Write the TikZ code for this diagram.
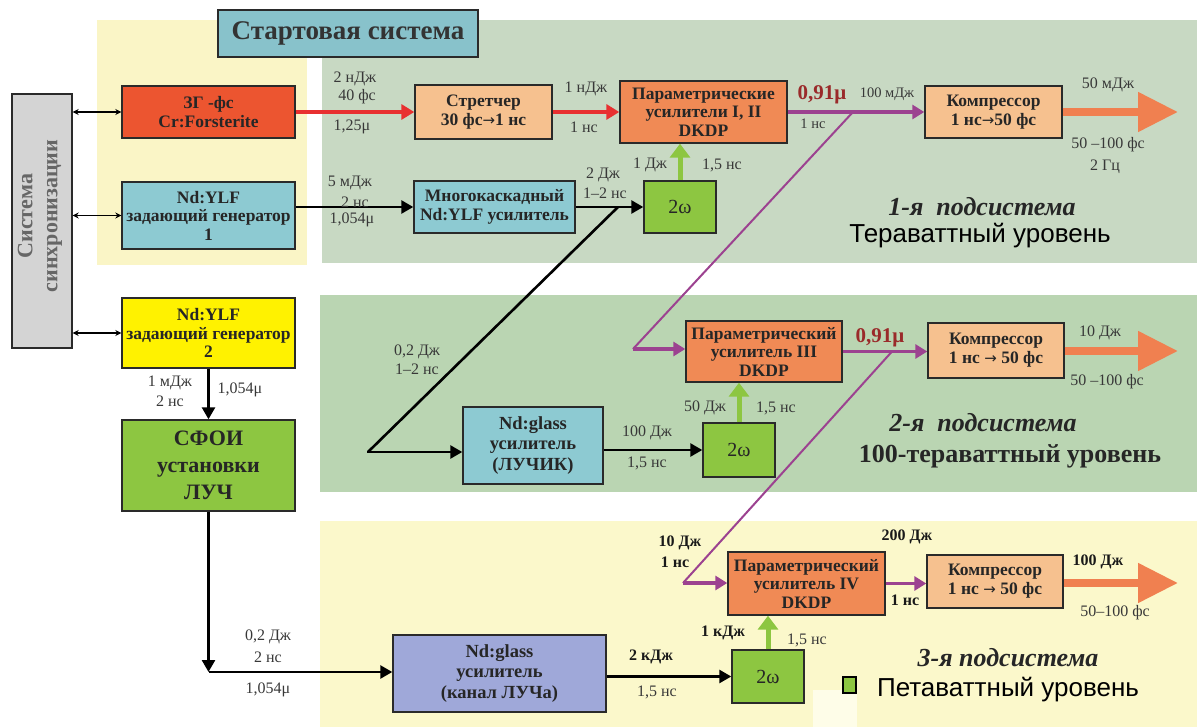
\documentclass[tikz,border=0pt]{standalone}
\usepackage{fontspec}
\setmainfont{Liberation Serif}
\newfontfamily\sansf{Liberation Sans}
\newfontfamily\arrf{DejaVu Sans}
\usetikzlibrary{arrows.meta}
\definecolor{bgyel}{HTML}{FAF5C6}
\definecolor{bggrA}{HTML}{C8D9C3}
\definecolor{bggrB}{HTML}{BAD5B2}
\definecolor{bgyelB}{HTML}{FBF8CB}
\definecolor{bglight}{HTML}{FEFDE8}
\definecolor{cteal}{HTML}{8DCAD2}
\definecolor{ctitle}{HTML}{88C2CB}
\definecolor{cred}{HTML}{EC5530}
\definecolor{cpeach}{HTML}{F6C18F}
\definecolor{corange}{HTML}{F08A55}
\definecolor{cgreen}{HTML}{8DC641}
\definecolor{cyel}{HTML}{FFF200}
\definecolor{clav}{HTML}{9FA8D9}
\definecolor{cpurple}{HTML}{9C4290}
\definecolor{cared}{HTML}{E83030}
\definecolor{cbig}{HTML}{F08050}
\definecolor{csync}{HTML}{D4D4D4}
\definecolor{cdred}{HTML}{9A2A2A}
\definecolor{boxline}{HTML}{2A2A2A}
\newcommand\bxf{\fontsize{17.5}{19}\selectfont\bfseries}
\newcommand\lbf{\fontsize{16}{17}\selectfont}
\newcommand\rar{{\arrf\mdseries\fontsize{15}{15}\selectfont →}}
\tikzset{
  box/.style={draw=boxline, line width=1.4pt, align=center, inner sep=0pt, font=\bxf, text=black!85},
  lbl/.style={font=\lbf, text=black!78, inner sep=0pt, align=center},
  lblb/.style={font=\lbf\bfseries, text=black!90, inner sep=0pt, align=center},
  redarr/.style={draw=cared, line width=4pt, -{Triangle[length=13pt,width=15pt]}},
  blkarr/.style={draw=black, line width=2.6pt, -{Triangle[length=12pt,width=13pt]}},
  blkline/.style={draw=black, line width=2.6pt},
  grnarr/.style={draw=cgreen, line width=5pt, -{Triangle[length=14pt,width=20pt]}},
  purarr/.style={draw=cpurple, line width=3.4pt, -{Triangle[length=12pt,width=14pt]}},
  purline/.style={draw=cpurple, line width=2pt},
  bigarr/.style={draw=cbig, line width=8pt, -{Triangle[length=40pt,width=38pt]}},
  syncarr/.style={draw=black, line width=1.3pt, {Stealth[length=6pt,width=6pt]}-{Stealth[length=6pt,width=6pt]}},
  red91/.style={font=\fontsize{21}{22}\selectfont\bfseries, text=cdred, inner sep=0pt}
}
\begin{document}
\begin{tikzpicture}[x=1pt,y=-1pt]
\useasboundingbox (0,0) rectangle (1197,727);
\fill[white] (0,0) rectangle (1197,727);
% backgrounds
\fill[bgyel] (97,20) rectangle (307,265);
\fill[bggrA] (322,20) rectangle (1197,263);
\fill[bggrB] (320,295) rectangle (1197,492);
\fill[bgyelB] (320,521) rectangle (1197,727);
\fill[bglight] (813,690) rectangle (857,727);

% boxes
\node[box, fill=ctitle, minimum width=260, minimum height=47, font=\fontsize{27}{29}\selectfont\bfseries, text=black!80] (title) at (348,33.5) {Стартовая система};
\node[box, fill=csync, minimum width=60, minimum height=254] (sync) at (42,221) {};
\node[rotate=90, align=center, inner sep=0pt, font=\fontsize{22}{25}\selectfont\bfseries, text=black!60] (synct) at (40,216) {Система\\синхронизации};
\node[box, fill=cred, minimum width=173, minimum height=52] (zg) at (208.5,112) {ЗГ -фс\\Cr:Forsterite};
\node[box, fill=cteal, minimum width=173, minimum height=67, font=\fontsize{17.5}{18.5}\selectfont\bfseries] (ylfa) at (208.5,215.5) {Nd:YLF\\задающий генератор\\1};
\node[box, fill=cyel, minimum width=173, minimum height=70, font=\fontsize{17.5}{18.5}\selectfont\bfseries] (ylfb) at (208.5,333) {Nd:YLF\\задающий генератор\\2};
\node[box, fill=cgreen, minimum width=173, minimum height=91, font=\fontsize{22}{27}\selectfont\bfseries] (sfoi) at (208.5,465.5) {СФОИ\\установки\\ЛУЧ};
\node[box, fill=cpeach, minimum width=137, minimum height=54] (str) at (483.5,112) {Стретчер\\30 фс\rar 1 нс};
\node[box, fill=corange, minimum width=167, minimum height=62, font=\fontsize{17.5}{18.5}\selectfont\bfseries] (parA) at (703.5,112) {Параметрические\\усилители I, II\\DKDP};
\node[box, fill=cteal, minimum width=161, minimum height=52] (multi) at (494.5,207) {Многокаскадный\\Nd:YLF усилитель};
\node[box, fill=cgreen, minimum width=72, minimum height=52, font=\fontsize{20}{22}\selectfont] (wA) at (680,207) {2ω};
\node[box, fill=cpeach, minimum width=137, minimum height=52] (compA) at (993.5,112) {Компрессор\\1 нс\rar 50 фс};
\node[box, fill=corange, minimum width=156, minimum height=61, font=\fontsize{17.5}{18.5}\selectfont\bfseries] (parB) at (764,351.5) {Параметрический\\усилитель III\\DKDP};
\node[box, fill=cpeach, minimum width=136, minimum height=55] (compB) at (996,350.5) {Компрессор\\1 нс \rar\ 50 фс};
\node[box, fill=cteal, minimum width=140, minimum height=77, font=\fontsize{18.5}{20.5}\selectfont\bfseries] (glassA) at (533,445.5) {Nd:glass\\усилитель\\(ЛУЧИК)};
\node[box, fill=cgreen, minimum width=72, minimum height=54, font=\fontsize{20}{22}\selectfont] (wB) at (739,450) {2ω};
\node[box, fill=clav, minimum width=213, minimum height=77, font=\fontsize{18.5}{20.5}\selectfont\bfseries] (glassB) at (499.5,673.5) {Nd:glass\\усилитель\\(канал ЛУЧа)};
\node[box, fill=cgreen, minimum width=72, minimum height=53, font=\fontsize{20}{22}\selectfont] (wC) at (768,676.5) {2ω};
\node[box, fill=corange, minimum width=157, minimum height=63, font=\fontsize{17.5}{18.5}\selectfont\bfseries] (parC) at (806.5,583.5) {Параметрический\\усилитель IV\\DKDP};
\node[box, fill=cpeach, minimum width=136, minimum height=53] (compC) at (995,581.5) {Компрессор\\1 нс \rar\ 50 фс};

% coordinates
\coordinate (brA) at (618,207);
\coordinate (brB) at (368,452);
\coordinate (pA) at (853,112);
\coordinate (pB) at (633,349);
\coordinate (pC) at (892,351.5);
\coordinate (pD) at (683,583);
\coordinate (cL) at (208.5,672);
\coordinate (oA) at (1178,112);
\coordinate (oB) at (1178,351);
\coordinate (oC) at (1178,583);

% sync arrows
\draw[syncarr] (sync.east |- zg.west) -- (zg.west);
\draw[syncarr] (sync.east |- ylfa.west) -- (ylfa.west);
\draw[syncarr] (sync.east |- ylfb.west) -- (ylfb.west);

% red
\draw[redarr] (zg.east) -- (str.west);
\draw[redarr] (str.east) -- (parA.west);
% black
\draw[blkarr] (ylfa.east |- multi.west) -- (multi.west);
\draw[blkarr] (multi.east) -- (wA.west);
\draw[blkline, line cap=round, line join=round] (brA) -- (brB);
\draw[blkarr] (brB) -- (brB -| glassA.west);
\draw[blkarr] (wB.west -| glassA.east) -- (wB.west);
\draw[blkarr] (ylfb.south) -- (sfoi.north);
\draw[blkarr] (sfoi.south) -- (cL);
\draw[blkarr] (cL) -- (cL -| glassB.west);
\draw[blkarr] (wC.west -| glassB.east) -- (wC.west);
% green
\draw[grnarr] (wA.north) -- (wA.north |- parA.south);
\draw[grnarr] (wB.north) -- (wB.north |- parB.south);
\draw[grnarr] (wC.north) -- (wC.north |- parC.south);
% purple
\draw[purarr] (parA.east) -- (compA.west);
\draw[purline] (pA) -- (pB);
\draw[purarr] (pB) -- (pB -| parB.west);
\draw[purarr] (parB.east) -- (parB.east -| compB.west);
\draw[purline] (pC) -- (pD);
\draw[purarr] (pD) -- (pD -| parC.west);
\draw[purarr] (parC.east) -- (parC.east -| compC.west);
% big orange
\draw[bigarr] (compA.east) -- (oA);
\draw[bigarr] (compB.east |- oB) -- (oB);
\draw[bigarr] (compC.east |- oC) -- (oC);

% labels
\node[lbl] (l1) at (355,79) {2 нДж};
\node[lbl] (l2) at (357,97) {40 фс};
\node[lbl] (l3) at (352,127) {1,25μ};
\node[lbl] (l4) at (350,183) {5 мДж};
\node[lbl] (l5) at (355,202) {2 нс};
\node[lbl] (l6) at (352,220) {1,054μ};
\node[lbl] (l7) at (586,89) {1 нДж};
\node[lbl] (l8) at (584,127) {1 нс};
\node[red91] (l9) at (822,95) {0,91μ};
\node[lbl, font=\fontsize{14.5}{15}\selectfont] (l10) at (887,94) {100 мДж};
\node[lbl, font=\fontsize{14.5}{15}\selectfont] (l11) at (813,124) {1 нс};
\node[lbl] (l12) at (1108,85) {50 мДж};
\node[lbl] (l13) at (1108,145) {50 –100 фс};
\node[lbl] (l14) at (1105,167) {2 Гц};
\node[lbl] (l15) at (603,175) {2 Дж};
\node[lbl] (l16) at (605,193) {1–2 нс};
\node[lbl] (l17) at (650,165) {1 Дж};
\node[lbl] (l18) at (722,165) {1,5 нс};
\node[lbl] (l19) at (417,352) {0,2 Дж};
\node[lbl] (l20) at (417,369) {1–2 нс};
\node[lbl] (l21) at (647,433) {100 Дж};
\node[lbl] (l22) at (647,463) {1,5 нс};
\node[lbl] (l23) at (705,408) {50 Дж};
\node[lbl] (l24) at (776,408) {1,5 нс};
\node[red91] (l25) at (880,338) {0,91μ};
\node[lbl] (l26) at (1100,333) {10 Дж};
\node[lbl] (l27) at (1107,382) {50 –100 фс};
\node[lbl] (l28) at (170,383) {1 мДж};
\node[lbl] (l29) at (170,401) {2 нс};
\node[lbl] (l30) at (240,390) {1,054μ};
\node[lbl] (l31) at (268,637) {0,2 Дж};
\node[lbl] (l32) at (268,657) {2 нс};
\node[lbl] (l33) at (268,690) {1,054μ};
\node[lblb] (l34) at (651,657) {2 кДж};
\node[lbl] (l35) at (657,692) {1,5 нс};
\node[lblb] (l36) at (680,543) {10 Дж};
\node[lblb] (l37) at (675,562) {1 нс};
\node[lblb] (l38) at (907,537) {200 Дж};
\node[lblb] (l39) at (905,600) {1 нс};
\node[lblb] (l40) at (723,633) {1 кДж};
\node[lbl] (l41) at (807,640) {1,5 нс};
\node[lblb] (l42) at (1098,562) {100 Дж};
\node[lbl] (l43) at (1115,613) {50–100 фс};

% subsystem titles
\node[inner sep=0pt, font=\fontsize{26}{28}\selectfont\bfseries\itshape, text=black!85] (sA) at (982,207) {1-я\ \ подсистема};
\node[inner sep=0pt, font=\sansf\fontsize{26}{28}\selectfont] (sAt) at (980,236) {Тераваттный уровень};
\node[inner sep=0pt, font=\fontsize{26}{28}\selectfont\bfseries\itshape, text=black!85] (sB) at (983,423) {2-я\ \ подсистема};
\node[inner sep=0pt, font=\fontsize{26}{28}\selectfont\bfseries, text=black!85] (sBt) at (1010,456) {100-тераваттный уровень};
\node[inner sep=0pt, font=\fontsize{26}{28}\selectfont\bfseries\itshape, text=black!85] (sC) at (1008,658) {3-я подсистема};
\node[inner sep=0pt, font=\sansf\fontsize{26}{28}\selectfont] (sCt) at (1008,690) {Петаваттный уровень};
\node[draw=black, line width=1.5pt, fill=cgreen, minimum width=13, minimum height=16, inner sep=0pt] (sq) at (849.5,685) {};
\end{tikzpicture}
\end{document}
